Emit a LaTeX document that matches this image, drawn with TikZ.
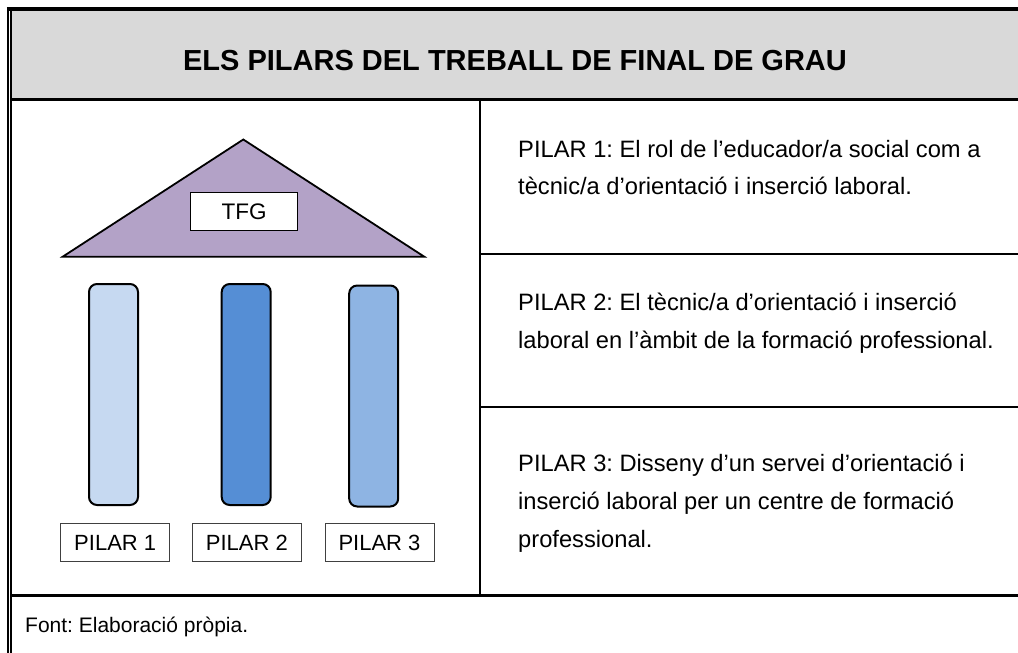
\documentclass[tikz,border=0pt]{standalone}
\usepackage{fontspec}
\setmainfont{Liberation Sans}
\definecolor{headgray}{HTML}{D9D9D9}
\definecolor{roofc}{HTML}{B3A2C7}
\definecolor{pilaA}{HTML}{C6D9F1}
\definecolor{pilaB}{HTML}{558ED5}
\definecolor{pilaC}{HTML}{8EB4E3}
\definecolor{boxline}{HTML}{404040}
\frenchspacing
\begin{document}
\begin{tikzpicture}[x=1pt,y=-1pt,
  every node/.style={inner sep=0pt},
  column/.style={draw=black, line width=2pt, rounded corners=8pt,
    minimum width=49pt, minimum height=221pt},
  labelbox/.style={draw=boxline, line width=1pt, fill=white,
    minimum width=109pt, minimum height=38.6pt,
    font=\fontsize{22}{26}\selectfont},
  bodytext/.style={anchor=base west, align=left},
  rule/.style={line width=#1, black}]
\useasboundingbox (0,0) rectangle (1018,653);
% header
\fill[headgray] (12,10.5) rectangle (1018,98);
\draw[rule=3.5pt] (6.8,8.75) -- (1018,8.75);
\draw[rule=1.5pt] (8.2,7) -- (8.2,653);
\draw[rule=1.5pt] (11.2,7) -- (11.2,653);
\draw[rule=3pt] (12,99.5) -- (1018,99.5);
\draw[rule=3pt] (12,595.5) -- (1018,595.5);
\draw[rule=2pt] (480,99.5) -- (480,595.5);
\draw[rule=2pt] (480,254) -- (1018,254);
\draw[rule=2pt] (480,407) -- (1018,407);
\node[anchor=base, font=\bfseries\fontsize{29}{34}\selectfont] (title) at (515,70)
  {ELS PILARS DEL TREBALL DE FINAL DE GRAU};
% roof
\draw[fill=roofc, line width=1.8pt, line join=miter] (243.3,139.5) -- (424.3,256.7) -- (62.7,256.7) -- cycle;
\node[draw=black, line width=1pt, fill=white, minimum width=107.5pt, minimum height=38pt,
  font=\fontsize{22.5}{26}\selectfont] (tfg) at (244,211.7) {TFG};
% columns
\node[column, fill=pilaA] (col1) at (113.5,394.5) {};
\node[column, fill=pilaB] (col2) at (246.2,394.5) {};
\node[column, fill=pilaC] (col3) at (373.7,396) {};
% labels
\node[labelbox] (lab1) at (115.2,542.5) {PILAR 1};
\node[labelbox] (lab2) at (246.8,542.5) {PILAR 2};
\node[labelbox] (lab3) at (379.5,542.5) {PILAR 3};
% right column texts
\node[bodytext] (t1) at (518,157) {\parbox[t]{495pt}{\fontsize{23.7}{37.5}\selectfont
  PILAR 1: El rol de l’educador/a social com a\\
  tècnic/a d’orientació i inserció laboral.}};
\node[bodytext] (t2) at (518,310) {\parbox[t]{495pt}{\fontsize{23.7}{38.5}\selectfont
  PILAR 2: El tècnic/a d’orientació i inserció\\
  laboral en l’àmbit de la formació professional.}};
\node[bodytext] (t3) at (518,471) {\parbox[t]{495pt}{\fontsize{23.7}{38}\selectfont
  PILAR 3: Disseny d’un servei d’orientació i\\
  inserció laboral per un centre de formació\\
  professional.}};
% footer
\node[anchor=base west, font=\fontsize{21}{25}\selectfont] (foot) at (25,632) {Font: Elaboració pròpia.};
\end{tikzpicture}
\end{document}
